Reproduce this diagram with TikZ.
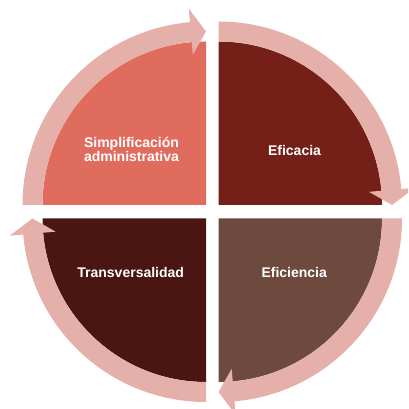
\documentclass[tikz,border=0pt]{standalone}
\usepackage{fontspec}
\setmainfont{Liberation Sans}
\definecolor{cTL}{HTML}{E06C5E}
\definecolor{cTR}{HTML}{742018}
\definecolor{cBR}{HTML}{6E4A3E}
\definecolor{cBL}{HTML}{4B1612}
\definecolor{cArrow}{HTML}{E6B0AA}
\begin{document}
\begin{tikzpicture}[x=1pt,y=1pt,
  lbl/.style={text=white,font=\bfseries\fontsize{14}{11.7}\selectfont,align=center,inner sep=0pt},
  ringarrow/.style={fill=cArrow}]
\useasboundingbox (0,0) rectangle (408,409);
\clip (0,0) rectangle (408,409);
\fill[white] (0,0) rectangle (408,409);
% quarter discs
\fill[cTL] (206,204) -- ++(180:163.5) arc[start angle=180,end angle=90,radius=163.5] -- cycle;
\fill[cTR] (218.5,204) -- ++(90:163.5) arc[start angle=90,end angle=0,radius=163.5] -- cycle;
\fill[cBR] (218.5,190.5) -- ++(0:163.5) arc[start angle=0,end angle=-90,radius=163.5] -- cycle;
\fill[cBL] (206,190.5) -- ++(-90:163.5) arc[start angle=-90,end angle=-180,radius=163.5] -- cycle;
% circular arrows
\foreach \cx/\cy/\s in {206/204/180, 218.5/204/90, 218.5/190.5/0, 206/190.5/-90}{
  \pgfmathsetmacro\e{\s-90}
  \pgfmathsetmacro\b{\s-85}
  \begin{scope}[shift={(\cx,\cy)}]
    \fill[ringarrow] (\s:183.5) arc[start angle=\s,end angle=\b,radius=183.5]
      -- (\b:197) -- (\e:173.5) -- (\b:151) -- (\b:163.5)
      arc[start angle=\b,end angle=\s,radius=163.5] -- cycle;
  \end{scope}
}
% labels
\node[lbl] (simp) at (131.5,259.3) {Simplificación\\administrativa};
\node[lbl,anchor=base] (efic) at (294.5,253) {Eficacia};
\node[lbl,anchor=base] (efin) at (294.2,131.3) {Eficiencia};
\node[lbl,anchor=base] (trans) at (130.7,131.3) {Transversalidad};
\end{tikzpicture}
\end{document}
